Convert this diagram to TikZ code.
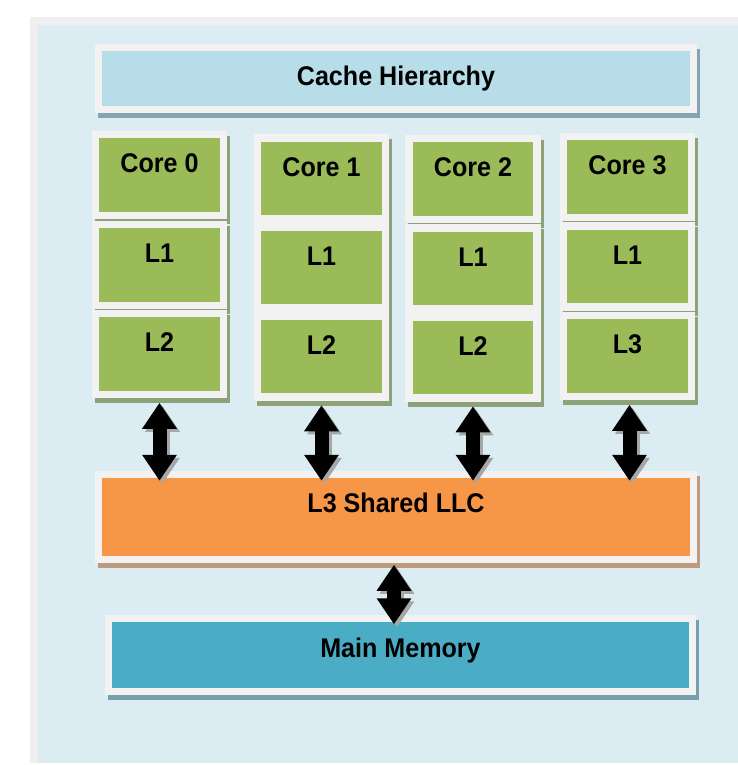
\documentclass[tikz,border=0pt]{standalone}
\usepackage{fontspec}
\setmainfont{Liberation Sans}[FakeStretch=0.93]
\usetikzlibrary{arrows.meta,shadows}

\definecolor{panelgray}{HTML}{EFEFEF}
\definecolor{panelblue}{HTML}{DBEDF3}
\definecolor{framegray}{HTML}{F2F2F2}
\definecolor{headblue}{HTML}{B7DDE8}
\definecolor{headshadow}{RGB}{130,165,175}
\definecolor{cellgreen}{HTML}{9BBB59}
\definecolor{cellshadow}{RGB}{142,162,122}
\definecolor{llcorange}{HTML}{F79646}
\definecolor{llcshadow}{RGB}{190,155,125}
\definecolor{memblue}{HTML}{4BACC6}
\definecolor{memshadow}{RGB}{120,160,172}

\tikzset{
  boxframe/.style={draw=framegray, line width=7.5pt, inner xsep=0pt, inner ysep=0pt,
    font=\bfseries\fontsize{27}{27}\selectfont},
  boxshadow/.style={drop shadow={shadow xshift=3pt, shadow yshift=-5pt,
    opacity=1, fill=#1, draw=#1, line width=7.5pt}},
  cell/.style={boxframe, fill=cellgreen, boxshadow=cellshadow,
    minimum width=128pt, text height=38pt, text depth=43pt},
  dblarrow/.style={{Triangle[width=33pt,length=26pt]}-{Triangle[width=33pt,length=26pt]},
    line width=14pt},
  arrshadow/.style={dblarrow, draw=black!35, transform canvas={xshift=3pt,yshift=-3pt}}
}

\begin{document}
\begin{tikzpicture}[x=1pt,y=-1pt]

  \useasboundingbox (0,0) rectangle (738,765);

  % background panel
  \fill[panelgray] (30,17) rectangle (738,763);
  \fill[panelblue] (38,25) rectangle (738,763);

  \node[boxframe, fill=headblue, boxshadow=headshadow, minimum width=595pt,
        text height=38.5pt, text depth=23.5pt] (head) at (396,78.5) {Cache Hierarchy};

  % core columns
  \node[cell] (core0) at (159.5,175)   {Core 0};
  \node[cell] (l1a)   at (159.5,265)   {L1};
  \node[cell] (l2a)   at (159.5,354)   {L2};

  \node[cell] (core1) at (321.5,178.5) {Core 1};
  \node[cell] (l1b)   at (321.5,267.5) {L1};
  \node[cell] (l2b)   at (321.5,356.5) {L2};

  \node[cell] (core2) at (473,179)     {Core 2};
  \node[cell] (l1c)   at (473,268.5)   {L1};
  \node[cell] (l2c)   at (473,357.5)   {L2};

  \node[cell] (core3) at (627.5,177)   {Core 3};
  \node[cell] (l1d)   at (627.5,266.5) {L1};
  \node[cell] (l3d)   at (627.5,356)   {L3};

  \node[boxframe, fill=llcorange, boxshadow=llcshadow, minimum width=595pt,
        text height=37.5pt, text depth=47.5pt] (llc) at (396,517) {L3 Shared LLC};

  \node[boxframe, fill=memblue, boxshadow=memshadow, minimum width=584pt,
        text height=38.5pt, text depth=34.5pt] (mem) at (400.5,655) {Main Memory};

  % links
  \draw[arrshadow] ([yshift=-4.5pt]l2a.south) -- ([yshift=-10pt]l2a.south |- llc.north);
  \draw[dblarrow]  ([yshift=-4.5pt]l2a.south) -- ([yshift=-10pt]l2a.south |- llc.north);
  \draw[arrshadow] ([yshift=-4.5pt]l2b.south) -- ([yshift=-10pt]l2b.south |- llc.north);
  \draw[dblarrow]  ([yshift=-4.5pt]l2b.south) -- ([yshift=-10pt]l2b.south |- llc.north);
  \draw[arrshadow] ([yshift=-4.5pt]l2c.south) -- ([yshift=-10pt]l2c.south |- llc.north);
  \draw[dblarrow]  ([yshift=-4.5pt]l2c.south) -- ([yshift=-10pt]l2c.south |- llc.north);
  \draw[arrshadow] ([xshift=2pt,yshift=-4.5pt]l3d.south) -- ([xshift=2pt,yshift=-10pt]l3d.south |- llc.north);
  \draw[dblarrow]  ([xshift=2pt,yshift=-4.5pt]l3d.south) -- ([xshift=2pt,yshift=-10pt]l3d.south |- llc.north);

  \draw[arrshadow] ([xshift=-2pt,yshift=-1.5pt]llc.south) -- ([xshift=-2pt,yshift=-9.5pt]llc.south |- mem.north);
  \draw[dblarrow]  ([xshift=-2pt,yshift=-1.5pt]llc.south) -- ([xshift=-2pt,yshift=-9.5pt]llc.south |- mem.north);

\end{tikzpicture}
\end{document}
